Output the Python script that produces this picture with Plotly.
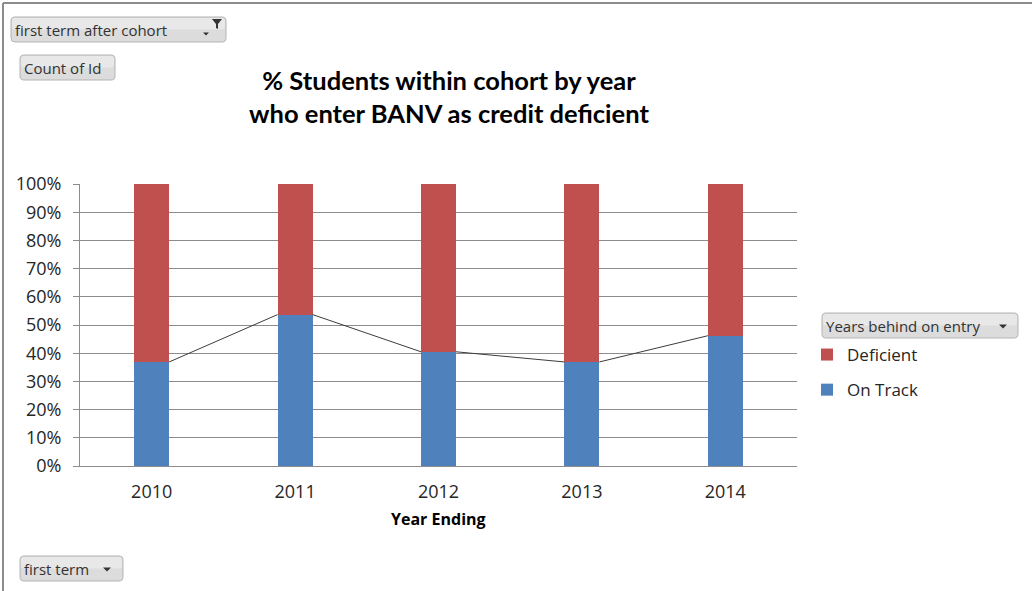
import plotly.graph_objects as go

# ---- data ----
years = ["2010", "2011", "2012", "2013", "2014"]
on_track = [36.9, 53.7, 40.5, 36.9, 46.2]
deficient = [63.1, 46.3, 59.5, 63.1, 53.8]

# ---- geometry ----
W, H = 1032, 591
L, R, T, B = 80, 235, 184, 125
PW, PH = W - L - R, H - T - B
BAR_W = 0.244

BLUE = "#4F81BD"
RED = "#C0504D"
GRID = "#8c8c8c"
TXT = "#262626"


def px(x):
    return (x - L) / PW


def py(y):
    return (T + PH - y) / PH


xs = list(range(len(years)))

fig = go.Figure()
fig.add_trace(go.Bar(x=xs, y=on_track, name="On Track", marker=dict(color=BLUE, line=dict(width=0)),
                     width=BAR_W, legendgroup="b", legendrank=2, hoverinfo="skip"))
fig.add_trace(go.Bar(x=xs, y=deficient, name="Deficient", marker=dict(color=RED, line=dict(width=0)),
                     width=BAR_W, legendgroup="a", legendrank=1, hoverinfo="skip"))

# series lines between bars (Excel style)
lx, ly = [], []
for i in range(len(years) - 1):
    lx += [xs[i] + BAR_W / 2, xs[i + 1] - BAR_W / 2, None]
    ly += [on_track[i], on_track[i + 1], None]
fig.add_trace(go.Scatter(x=lx, y=ly, mode="lines", line=dict(color="#3c3c3c", width=1),
                         showlegend=False, hoverinfo="skip"))

shapes = []
annotations = []


def rrect(x0, y0, x1, y1, r=4):
    def P(x, y):
        return f"{px(x):.5f},{py(y):.5f}"
    return ("M" + P(x0 + r, y0) + " L" + P(x1 - r, y0) + " Q" + P(x1, y0) + " " + P(x1, y0 + r) +
            " L" + P(x1, y1 - r) + " Q" + P(x1, y1) + " " + P(x1 - r, y1) +
            " L" + P(x0 + r, y1) + " Q" + P(x0, y1) + " " + P(x0, y1 - r) +
            " L" + P(x0, y0 + r) + " Q" + P(x0, y0) + " " + P(x0 + r, y0) + " Z")


def tri(cx, cy, w=8, h=4):
    return ("M" + f"{px(cx - w/2):.5f},{py(cy - h/2):.5f}" + " L" + f"{px(cx + w/2):.5f},{py(cy - h/2):.5f}" +
            " L" + f"{px(cx):.5f},{py(cy + h/2):.5f}" + " Z")


def button(x0, y0, x1, y1, text, arrow_x=None):
    shapes.append(dict(type="path", xref="paper", yref="paper", path=rrect(x0, y0, x1, y1),
                       fillcolor="#dcdcdc", line=dict(color="#b4b4b4", width=1), layer="above"))
    shapes.append(dict(type="path", xref="paper", yref="paper",
                       path=rrect(x0 + 1, y0 + 1, x1 - 1, (y0 + y1) / 2, 3),
                       fillcolor="#e8e8e8", line=dict(width=0), layer="above"))
    annotations.append(dict(text=text, xref="paper", yref="paper", x=px(x0 + 2), y=py((y0 + y1) / 2),
                            xanchor="left", yanchor="middle", showarrow=False,
                            font=dict(family="Open Sans", size=15, color="#333333")))
    if arrow_x is not None:
        shapes.append(dict(type="path", xref="paper", yref="paper", path=tri(arrow_x, (y0 + y1) / 2 + 1),
                           fillcolor="#333333", line=dict(width=0), layer="above"))


button(11, 17, 226, 42, "first term after cohort")
shapes.append(dict(type="path", xref="paper", yref="paper", path=tri(206, 34, 6, 3),
                   fillcolor="#333333", line=dict(width=0), layer="above"))
funnel = ("M" + f"{px(212):.5f},{py(19):.5f}" + " L" + f"{px(222):.5f},{py(19):.5f}" +
          " L" + f"{px(218):.5f},{py(24):.5f}" + " L" + f"{px(218):.5f},{py(29):.5f}" +
          " L" + f"{px(216):.5f},{py(28):.5f}" + " L" + f"{px(216):.5f},{py(24):.5f}" + " Z")
shapes.append(dict(type="path", xref="paper", yref="paper", path=funnel,
                   fillcolor="#333333", line=dict(width=0), layer="above"))
button(20, 55, 115, 80, "Count of Id")
button(822, 313, 1018, 338, "Years behind on entry", arrow_x=1003)
button(20, 556, 123, 581, "first term", arrow_x=107)

# outer frame lines (top and left)
shapes.append(dict(type="line", xref="paper", yref="paper", x0=px(3), x1=px(W), y0=py(3), y1=py(3),
                   line=dict(color="#8c8c8c", width=2)))
shapes.append(dict(type="line", xref="paper", yref="paper", x0=px(3), x1=px(3), y0=py(3), y1=py(H),
                   line=dict(color="#8c8c8c", width=2)))

annotations.append(dict(text="<b>Year Ending</b>", xref="paper", yref="paper", x=px(438), y=py(519),
                        xanchor="center", yanchor="middle", showarrow=False,
                        font=dict(family="Open Sans", size=16, color="#000000")))

fig.update_layout(
    width=W, height=H,
    margin=dict(l=L, r=R, t=T, b=B, pad=0),
    paper_bgcolor="white", plot_bgcolor="white",
    barmode="stack", bargap=0,
    title=dict(text="<b>% Students within cohort by year<br>who enter BANV as credit deficient</b>",
               x=px(449), xanchor="center", xref="paper",
               y=1 - 90 / H, yanchor="middle", yref="container",
               font=dict(family="Lato", size=25.5, color="#000000")),
    xaxis=dict(range=[-0.5, len(years) - 0.5], tickmode="array", tickvals=xs, ticktext=years,
               showgrid=False, zeroline=False, showline=True, linecolor=GRID, linewidth=1,
               ticks="", ticklabelstandoff=9,
               tickfont=dict(family="Open Sans", size=18, color=TXT), fixedrange=True),
    yaxis=dict(range=[0, 100], tickmode="linear", tick0=0, dtick=10, ticksuffix="%",
               showgrid=True, gridcolor=GRID, gridwidth=1, zeroline=False,
               showline=True, linecolor=GRID, linewidth=1,
               ticks="outside", ticklen=6, tickcolor=GRID, ticklabelstandoff=8,
               tickfont=dict(family="Open Sans", size=18, color=TXT), fixedrange=True),
    legend=dict(x=px(807), y=py(337), xanchor="left", yanchor="top", xref="paper", yref="paper",
                traceorder="grouped", tracegroupgap=10, bgcolor="rgba(0,0,0,0)",
                font=dict(family="Open Sans", size=17, color=TXT)),
    shapes=shapes, annotations=annotations, showlegend=True,
)

fig.write_html("out.html", config={"displayModeBar": False},
               post_script="document.body.style.margin='0px';")
